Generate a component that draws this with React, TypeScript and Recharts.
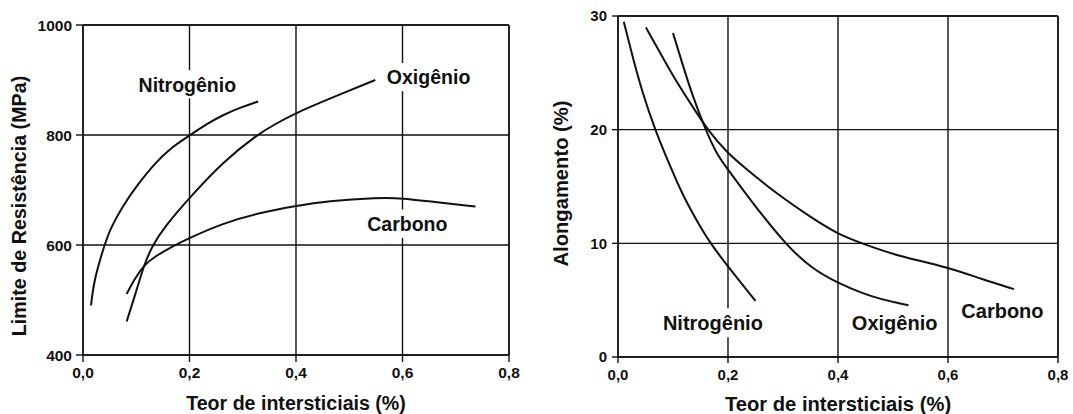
import React from 'react';
import { LineChart, Line, XAxis, YAxis, CartesianGrid, ReferenceDot, ReferenceLine, Label } from 'recharts';

const FONT = '"Liberation Sans", Arial, Helvetica, sans-serif';
const INK = '#111';

const xTicks = [0, 0.2, 0.4, 0.6, 0.8];
const strengthTicks = [400, 600, 800, 1000];
const elongTicks = [0, 10, 20, 30];

// Limite de Resistência (MPa)
const strengthNitrogenio = [
  { x: 0.015, y: 490 }, { x: 0.021, y: 537 }, { x: 0.0375, y: 591 }, { x: 0.05, y: 628 },
  { x: 0.076, y: 673 }, { x: 0.102, y: 709 }, { x: 0.135, y: 749 }, { x: 0.167, y: 778 },
  { x: 0.2, y: 799 }, { x: 0.232, y: 820 }, { x: 0.264, y: 837 }, { x: 0.296, y: 850 },
  { x: 0.329, y: 861 },
];
const strengthOxigenio = [
  { x: 0.082, y: 461 }, { x: 0.102, y: 522 }, { x: 0.115, y: 565 }, { x: 0.131, y: 600 },
  { x: 0.154, y: 634 }, { x: 0.2, y: 686 }, { x: 0.264, y: 752 }, { x: 0.326, y: 800 },
  { x: 0.361, y: 820 }, { x: 0.4, y: 840 }, { x: 0.458, y: 864 }, { x: 0.549, y: 900 },
];
const strengthCarbono = [
  { x: 0.082, y: 511 }, { x: 0.096, y: 537 }, { x: 0.115, y: 564 }, { x: 0.135, y: 579 },
  { x: 0.167, y: 597 }, { x: 0.2, y: 613 }, { x: 0.264, y: 640 }, { x: 0.329, y: 658 },
  { x: 0.4, y: 671 }, { x: 0.458, y: 680 }, { x: 0.555, y: 686 }, { x: 0.6, y: 685 },
  { x: 0.652, y: 679 }, { x: 0.737, y: 670 },
];

// Alongamento (%)
const elongNitrogenio = [
  { x: 0.0105, y: 29.5 }, { x: 0.025, y: 26.7 }, { x: 0.043, y: 23.45 }, { x: 0.068, y: 19.9 },
  { x: 0.093, y: 17.0 }, { x: 0.117, y: 14.3 }, { x: 0.142, y: 12.1 }, { x: 0.165, y: 10.2 },
  { x: 0.199, y: 8.0 }, { x: 0.25, y: 4.93 },
];
const elongOxigenio = [
  { x: 0.1, y: 28.5 }, { x: 0.117, y: 25.8 }, { x: 0.136, y: 22.9 }, { x: 0.16, y: 19.9 },
  { x: 0.179, y: 17.9 }, { x: 0.198, y: 16.6 }, { x: 0.229, y: 14.6 }, { x: 0.26, y: 12.6 },
  { x: 0.309, y: 9.7 }, { x: 0.352, y: 7.8 }, { x: 0.4, y: 6.5 }, { x: 0.445, y: 5.6 },
  { x: 0.476, y: 5.1 }, { x: 0.528, y: 4.55 },
];
const elongCarbono = [
  { x: 0.0507, y: 29.0 }, { x: 0.074, y: 27.0 }, { x: 0.105, y: 24.3 }, { x: 0.136, y: 22.0 },
  { x: 0.164, y: 19.9 }, { x: 0.198, y: 18.0 }, { x: 0.229, y: 16.7 }, { x: 0.29, y: 14.3 },
  { x: 0.352, y: 12.25 }, { x: 0.4, y: 10.8 }, { x: 0.445, y: 9.97 }, { x: 0.507, y: 8.9 },
  { x: 0.6, y: 7.9 }, { x: 0.661, y: 6.85 }, { x: 0.72, y: 5.97 },
];

const strengthLabels = [
  { text: 'Nitrogênio', x: 0.196, y: 879 },
  { text: 'Oxigênio', x: 0.649, y: 892 },
  { text: 'Carbono', x: 0.609, y: 625.5 },
];
const elongLabels = [
  { text: 'Nitrogênio', x: 0.1725, y: 2.35 },
  { text: 'Oxigênio', x: 0.503, y: 2.35 },
  { text: 'Carbono', x: 0.699, y: 3.47 },
];

const fmtX = (v: number) => v.toFixed(1).replace('.', ',');

const makeLabelShape = (text: string, fs: number) => (p: any) => {
  const cx = p.cx;
  const cy = p.cy;
  const w = text.length * fs * 0.52 + 6;
  return (
    <g>
      <rect x={cx - w / 2} y={cy - fs * 1.1} width={w} height={fs * 1.45} fill="#fff" />
      <text x={cx} y={cy} textAnchor="middle" fontFamily={FONT} fontWeight="bold" fontSize={fs} fill={INK}>
        {text}
      </text>
    </g>
  );
};

const makeXTick = (fs: number) => (p: any) => (
  <text x={p.x} y={p.y} dy="0.72em" textAnchor="middle" fontFamily={FONT} fontWeight="bold" fontSize={fs} fill={INK}>
    {fmtX(p.payload.value)}
  </text>
);

const makeYTick = (fs: number) => (p: any) => (
  <text x={p.x} y={p.y} dy="0.36em" textAnchor="end" fontFamily={FONT} fontWeight="bold" fontSize={fs} fill={INK}>
    {String(p.payload.value)}
  </text>
);

const xTitle = (fs: number, dy: number) => (props: any) => {
  const vb = props.viewBox || {};
  return (
    <text x={vb.x + vb.width / 2} y={vb.y + dy} textAnchor="middle" fontFamily={FONT} fontWeight="bold" fontSize={fs} fill={INK}>
      Teor de intersticiais (%)
    </text>
  );
};

const yTitle = (text: string, fs: number, bx: number, cy: number) => () => (
  <text x={bx} y={cy} transform={`rotate(-90, ${bx}, ${cy})`} textAnchor="middle" fontFamily={FONT} fontWeight="bold" fontSize={fs} fill={INK}>
    {text}
  </text>
);

const lineProps = {
  type: 'basis' as const,
  dataKey: 'y',
  stroke: INK,
  strokeWidth: 2,
  dot: false,
  activeDot: false,
  isAnimationActive: false,
};

export default function App() {
  return (
    <div style={{ position: 'absolute', left: 0, top: 0, width: 1073, height: 414, background: '#fff' }}>
      <div style={{ position: 'absolute', left: 0, top: 0 }}>
        <LineChart width={540} height={414} margin={{ top: 25, right: 31, bottom: 0, left: 0 }}>
          <CartesianGrid stroke={INK} strokeWidth={1.4} fill="none" />
          <XAxis
            type="number"
            dataKey="x"
            domain={[0, 0.8]}
            ticks={xTicks}
            height={59}
            tickSize={7}
            tickMargin={5}
            axisLine={{ stroke: INK, strokeWidth: 1.4 }}
            tickLine={{ stroke: INK, strokeWidth: 1.4 }}
            tick={makeXTick(15.5)}
            allowDataOverflow
          >
            <Label content={xTitle(19.6, 55)} />
          </XAxis>
          <YAxis
            type="number"
            domain={[400, 1000]}
            ticks={strengthTicks}
            width={83}
            tickSize={7}
            tickMargin={4}
            axisLine={{ stroke: INK, strokeWidth: 1.4 }}
            tickLine={{ stroke: INK, strokeWidth: 1.4 }}
            tick={makeYTick(15.5)}
            allowDataOverflow
          >
            <Label content={yTitle('Limite de Resistência (MPa)', 19.7, 26, 206)} />
          </YAxis>
          <ReferenceLine y={1000} stroke={INK} strokeWidth={1.4} />
          <ReferenceLine x={0.8} stroke={INK} strokeWidth={1.4} />
          {strengthLabels.map((l) => (
            <ReferenceDot key={l.text} x={l.x} y={l.y} r={0} ifOverflow="visible" shape={makeLabelShape(l.text, 19.5)} />
          ))}
          <Line {...lineProps} data={strengthNitrogenio} name="Nitrogênio" />
          <Line {...lineProps} data={strengthOxigenio} name="Oxigênio" />
          <Line {...lineProps} data={strengthCarbono} name="Carbono" />
        </LineChart>
      </div>
      <div style={{ position: 'absolute', left: 540, top: 0 }}>
        <LineChart width={533} height={414} margin={{ top: 16, right: 15, bottom: 0, left: 0 }}>
          <CartesianGrid stroke={INK} strokeWidth={1.4} fill="none" />
          <XAxis
            type="number"
            dataKey="x"
            domain={[0, 0.8]}
            ticks={xTicks}
            height={57}
            tickSize={6}
            tickMargin={6}
            axisLine={{ stroke: INK, strokeWidth: 1.4 }}
            tickLine={{ stroke: INK, strokeWidth: 1.4 }}
            tick={makeXTick(15)}
            allowDataOverflow
          >
            <Label content={xTitle(20.2, 53.5)} />
          </XAxis>
          <YAxis
            type="number"
            domain={[0, 30]}
            ticks={elongTicks}
            width={78}
            tickSize={6}
            tickMargin={5}
            axisLine={{ stroke: INK, strokeWidth: 1.4 }}
            tickLine={{ stroke: INK, strokeWidth: 1.4 }}
            tick={makeYTick(15)}
            allowDataOverflow
          >
            <Label content={yTitle('Alongamento (%)', 20.2, 27.6, 183.5)} />
          </YAxis>
          <ReferenceLine y={30} stroke={INK} strokeWidth={1.4} />
          <ReferenceLine x={0.8} stroke={INK} strokeWidth={1.4} />
          {elongLabels.map((l) => (
            <ReferenceDot key={l.text} x={l.x} y={l.y} r={0} ifOverflow="visible" shape={makeLabelShape(l.text, 20)} />
          ))}
          <Line {...lineProps} data={elongNitrogenio} name="Nitrogênio" />
          <Line {...lineProps} data={elongOxigenio} name="Oxigênio" />
          <Line {...lineProps} data={elongCarbono} name="Carbono" />
        </LineChart>
      </div>
    </div>
  );
}
